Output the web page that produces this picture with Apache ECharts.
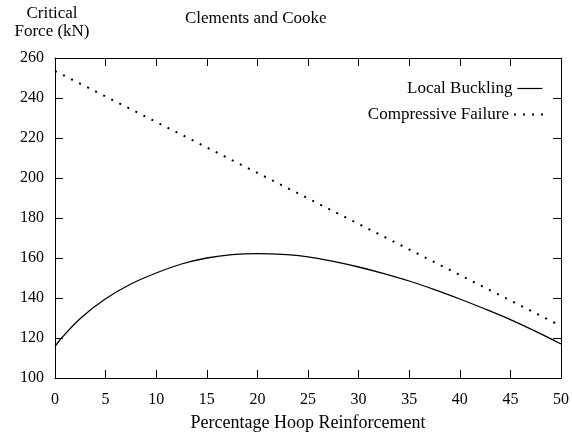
<!DOCTYPE html>
<html>
<head>
<meta charset="utf-8">
<script src="https://cdn.jsdelivr.net/npm/echarts@6/dist/echarts.min.js"></script>
<style>
html,body{margin:0;padding:0;background:#fff;}
#chart{width:572px;height:439px;}
</style>
</head>
<body>
<div id="chart"></div>
<script>
const titleText = 'Clements and Cooke';
const xAxisName = 'Percentage Hoop Reinforcement';
const yAxisName = 'Critical\nForce (kN)';
const seriesNames = ['Local Buckling', 'Compressive Failure'];
const localX = [0, 0.65, 2.5, 5, 7.5, 10, 12.5, 15, 17.5, 20, 22.5, 25, 27.5, 30, 32.5, 35, 37.5, 40, 42.5, 45, 47.5, 50];
const localY = [115.8, 120, 129.8, 139.6, 147, 152.5, 157, 160, 161.7, 162.2, 161.8, 160.6, 158.3, 155.5, 152.2, 148.5, 144.2, 139.5, 134.5, 129.2, 123.3, 117];
const compX = [0, 25, 50];
const compY = [253.5, 189.8, 126];
const xMin = 0, xMax = 50, xStep = 5;
const yMin = 100, yMax = 260, yStep = 20;

const font = 'Liberation Serif';
const chart = echarts.init(document.getElementById('chart'));
const baseAxis = {
  axisLine: { show: true, onZero: false, lineStyle: { color: '#000', width: 1 } },
  axisTick: { show: true, inside: true, length: 8, lineStyle: { color: '#000', width: 1 } },
  splitLine: { show: false }
};
const hiddenSymbol = { color: 'rgba(0,0,0,0)', borderColor: 'rgba(0,0,0,0)', borderWidth: 0 };
chart.setOption({
  animation: false,
  backgroundColor: '#fff',
  title: {
    text: titleText, left: 185, top: 10, padding: 0,
    textStyle: { fontFamily: font, fontSize: 17, fontWeight: 'normal', color: '#000', lineHeight: 17 }
  },
  legend: [
    {
      data: [seriesNames[0]], orient: 'vertical', align: 'right', right: 29, top: 80,
      itemWidth: 25, itemHeight: 14, itemGap: 0, padding: 0,
      itemStyle: hiddenSymbol,
      lineStyle: { width: 1.2 },
      textStyle: { fontFamily: font, fontSize: 17, color: '#000' }
    },
    {
      data: [seriesNames[1]], orient: 'vertical', align: 'right', right: 21, top: 106,
      itemWidth: 36, itemHeight: 14, itemGap: 0, padding: 0,
      itemStyle: hiddenSymbol,
      textStyle: { fontFamily: font, fontSize: 17, color: '#000' }
    }
  ],
  grid: { left: 55, right: 6, top: 58, bottom: 61, containLabel: false },
  xAxis: [
    Object.assign({}, baseAxis, {
      type: 'value', position: 'bottom', min: xMin, max: xMax, interval: xStep,
      name: xAxisName, nameLocation: 'middle', nameGap: 36,
      nameTextStyle: { fontFamily: font, fontSize: 18, color: '#000', lineHeight: 18 },
      axisLabel: { fontFamily: font, fontSize: 16, color: '#000', margin: 14, lineHeight: 16 }
    }),
    Object.assign({}, baseAxis, {
      type: 'value', position: 'top', min: xMin, max: xMax, interval: xStep,
      axisLabel: { show: false }
    })
  ],
  yAxis: [
    Object.assign({}, baseAxis, {
      type: 'value', position: 'left', min: yMin, max: yMax, interval: yStep,
      name: yAxisName, nameLocation: 'end', nameGap: 17,
      nameTextStyle: { fontFamily: font, fontSize: 17, color: '#000', lineHeight: 18, align: 'center', padding: [0, 6, 0, 0] },
      axisLabel: { fontFamily: font, fontSize: 16, color: '#000', margin: 11 }
    }),
    Object.assign({}, baseAxis, {
      type: 'value', position: 'right', min: yMin, max: yMax, interval: yStep,
      axisLabel: { show: false }
    })
  ],
  series: [
    {
      name: seriesNames[0], type: 'line', smooth: 0.35, symbol: 'none',
      data: localX.map((x, i) => [x, localY[i]]),
      lineStyle: { color: '#000', width: 1.3, type: 'solid' },
      itemStyle: { color: '#000' }
    },
    {
      name: seriesNames[1], type: 'line', symbol: 'none',
      data: compX.map((x, i) => [x, compY[i]]),
      lineStyle: { color: '#000', width: 2, type: [2, 7] },
      itemStyle: { color: '#000' }
    }
  ]
});
</script>
</body>
</html>
